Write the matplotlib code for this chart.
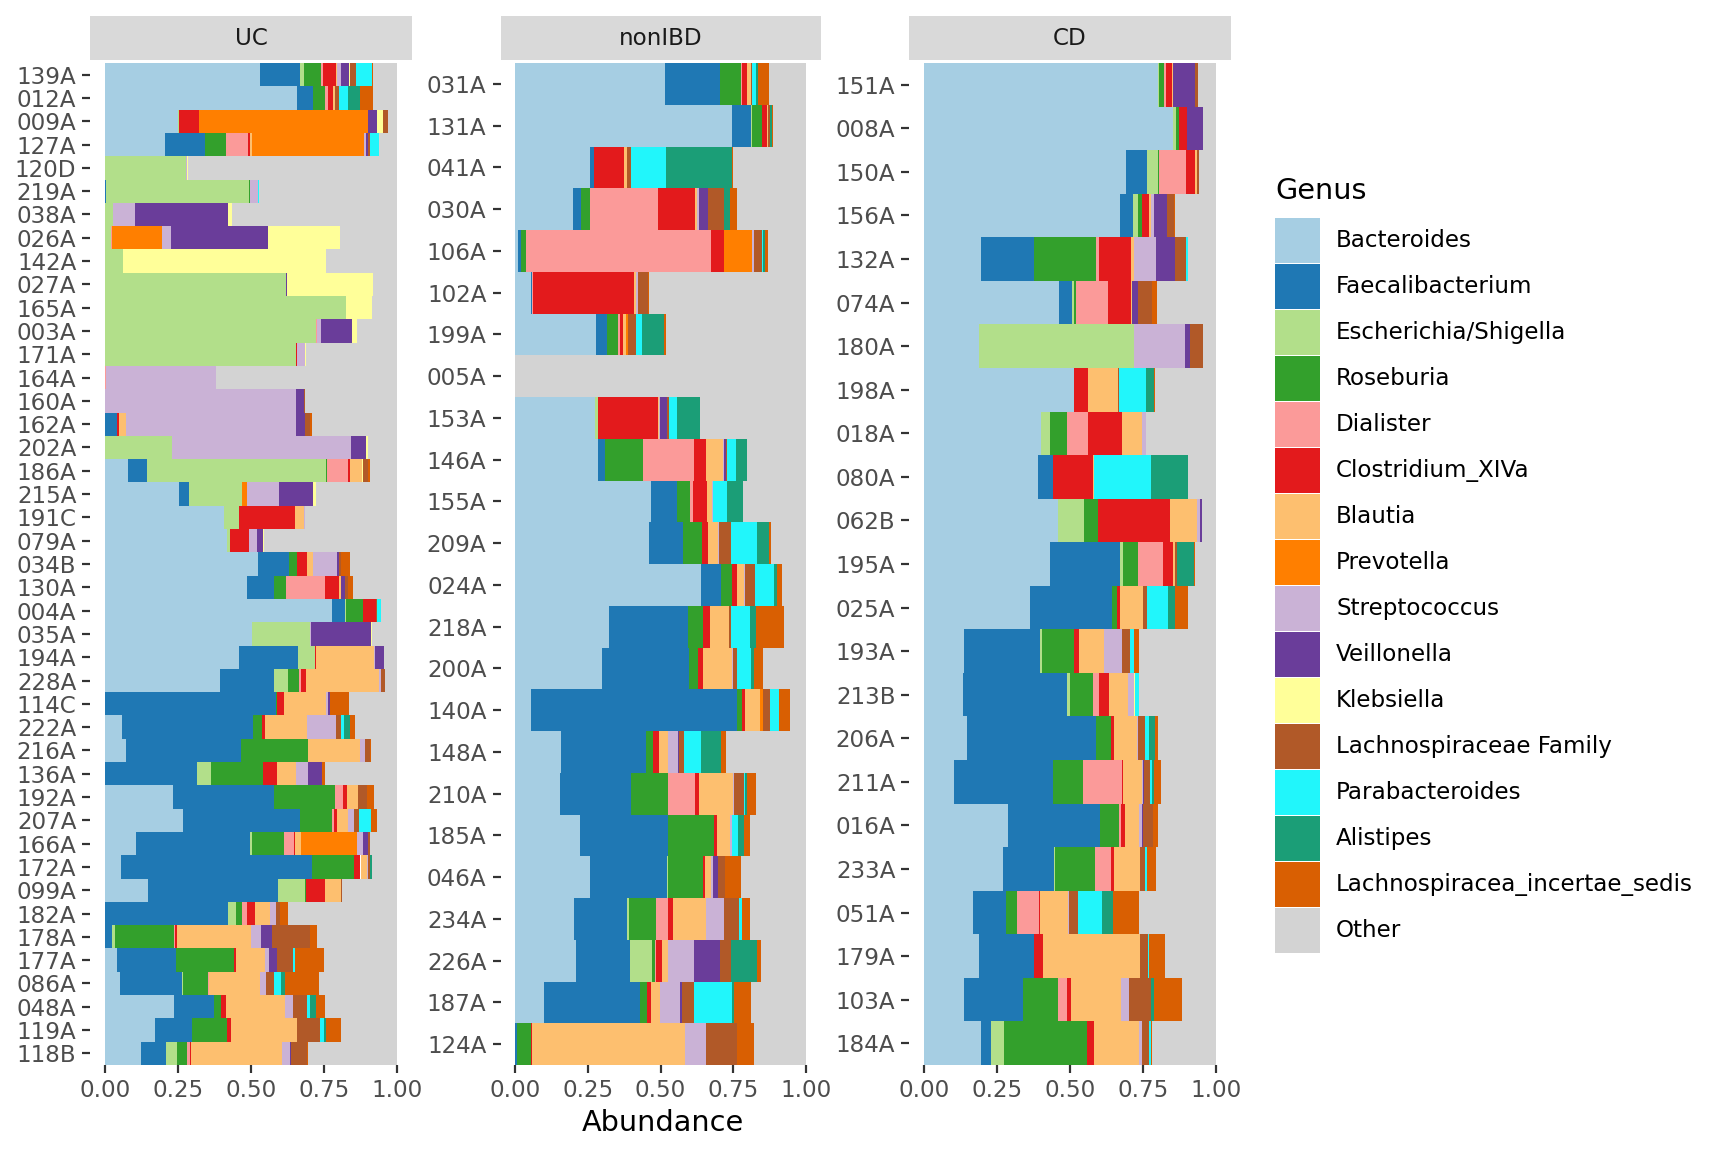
import numpy as np
import matplotlib
matplotlib.use("Agg")
import matplotlib.pyplot as plt
from matplotlib.patches import Rectangle


""" DONNEES """
genres = ["Bacteroides", "Faecalibacterium", "Escherichia/Shigella", "Roseburia",
          "Dialister", "Clostridium_XIVa", "Blautia", "Prevotella", "Streptococcus",
          "Veillonella", "Klebsiella", "Lachnospiraceae Family", "Parabacteroides",
          "Alistipes", "Lachnospiracea_incertae_sedis", "Other"]

couleurs = ["#a6cee3", "#1f78b4", "#b2df8a", "#33a02c", "#fb9a99", "#e31a1c",
            "#fdbf6f", "#ff7f00", "#cab2d6", "#6a3d9a", "#ffff99", "#b15928",
            "#21f6fb", "#1b9e77", "#d95f02", "#d3d3d3"]

# colonnes : les 15 genres (Other = 1 - somme)
uc_samples = ["139A", "012A", "009A", "127A", "120D", "219A", "038A", "026A", "142A",
              "027A", "165A", "003A", "171A", "164A", "160A", "162A", "202A", "186A",
              "215A", "191C", "079A", "034B", "130A", "004A", "035A", "194A", "228A",
              "114C", "222A", "216A", "136A", "192A", "207A", "166A", "172A", "099A",
              "182A", "178A", "177A", "086A", "048A", "119A", "118B"]
uc_values = [
    [0.531, 0.138, 0.014, 0.058, 0.005, 0.045, 0.004, 0, 0.012, 0.028, 0.003, 0.020, 0.057, 0, 0.004],
    [0.658, 0.055, 0, 0.041, 0.010, 0.017, 0.007, 0, 0, 0, 0, 0.014, 0.031, 0.041, 0.043],
    [0.249, 0, 0.005, 0, 0, 0.069, 0, 0.576, 0, 0.031, 0.021, 0.017, 0, 0, 0],
    [0.206, 0.137, 0, 0.072, 0.075, 0.007, 0.007, 0.384, 0.007, 0.007, 0, 0.007, 0.031, 0, 0],
    [0, 0, 0.278, 0, 0, 0, 0, 0, 0.004, 0, 0.003, 0, 0, 0, 0],
    [0, 0.004, 0.490, 0.004, 0, 0, 0, 0, 0.026, 0, 0, 0, 0.003, 0, 0],
    [0, 0, 0.027, 0, 0, 0, 0, 0, 0.075, 0.319, 0.014, 0, 0, 0, 0],
    [0, 0, 0.020, 0, 0.003, 0, 0, 0.171, 0.031, 0.333, 0.247, 0, 0, 0, 0],
    [0, 0, 0.062, 0, 0, 0, 0, 0, 0, 0, 0.696, 0, 0, 0, 0],
    [0, 0, 0.619, 0, 0, 0, 0, 0, 0, 0.005, 0.294, 0, 0, 0, 0],
    [0, 0, 0.826, 0, 0, 0, 0, 0, 0, 0, 0.089, 0, 0, 0, 0],
    [0, 0, 0.723, 0, 0.003, 0, 0, 0, 0.014, 0.106, 0.017, 0, 0, 0, 0],
    [0, 0, 0.655, 0, 0, 0.003, 0, 0, 0.027, 0, 0.003, 0, 0, 0, 0],
    [0, 0, 0, 0, 0.002, 0, 0, 0, 0.378, 0, 0, 0, 0, 0, 0],
    [0, 0, 0, 0, 0, 0, 0, 0, 0.655, 0.027, 0, 0.003, 0, 0, 0],
    [0, 0.041, 0, 0, 0, 0.007, 0.024, 0, 0.583, 0.031, 0, 0.017, 0, 0, 0.007],
    [0, 0, 0.230, 0, 0, 0, 0, 0, 0.614, 0.051, 0.007, 0, 0, 0, 0],
    [0.079, 0.065, 0.614, 0.003, 0.072, 0.007, 0.041, 0, 0, 0, 0.004, 0.016, 0, 0, 0.007],
    [0.254, 0.034, 0.182, 0, 0, 0, 0, 0.017, 0.110, 0.117, 0.007, 0, 0, 0, 0],
    [0.408, 0, 0.051, 0, 0, 0.192, 0.031, 0, 0.003, 0, 0, 0, 0, 0, 0],
    [0.418, 0, 0.010, 0, 0, 0.065, 0, 0, 0.027, 0.021, 0.003, 0, 0, 0, 0],
    [0.525, 0.106, 0, 0.027, 0, 0.034, 0.021, 0, 0.082, 0.007, 0, 0.007, 0, 0, 0.031],
    [0.487, 0.093, 0, 0.041, 0.134, 0.045, 0.007, 0, 0, 0.014, 0, 0.010, 0, 0, 0.017],
    [0.778, 0.045, 0.003, 0.059, 0, 0.043, 0, 0, 0, 0, 0, 0.003, 0.014, 0, 0],
    [0.504, 0, 0.199, 0, 0, 0, 0, 0, 0.003, 0.206, 0.003, 0, 0, 0, 0],
    [0.459, 0.202, 0.058, 0, 0, 0.003, 0.199, 0, 0.003, 0.031, 0, 0, 0, 0, 0],
    [0.394, 0.185, 0.048, 0.038, 0.007, 0.017, 0.250, 0, 0.007, 0, 0, 0.014, 0, 0, 0],
    [0, 0.586, 0, 0.003, 0, 0.024, 0.144, 0, 0.007, 0.007, 0, 0, 0, 0, 0.065],
    [0.058, 0.449, 0, 0.031, 0, 0.010, 0.144, 0, 0.099, 0, 0, 0.017, 0.010, 0.021, 0.017],
    [0.072, 0.394, 0, 0.230, 0, 0, 0.178, 0, 0.017, 0, 0, 0.017, 0, 0, 0.003],
    [0, 0.315, 0.048, 0.178, 0, 0.048, 0.065, 0, 0.041, 0.048, 0, 0, 0, 0, 0.010],
    [0.233, 0.346, 0, 0.209, 0.027, 0.014, 0.038, 0, 0, 0, 0, 0.031, 0, 0, 0.024],
    [0.267, 0.401, 0, 0.110, 0.007, 0.010, 0.038, 0, 0.021, 0, 0, 0.017, 0.041, 0, 0.021],
    [0.106, 0.391, 0.007, 0.110, 0.034, 0.003, 0.021, 0.192, 0.021, 0.014, 0, 0.010, 0, 0, 0],
    [0.055, 0.655, 0, 0.144, 0, 0.021, 0.021, 0, 0.003, 0, 0, 0.007, 0, 0.007, 0.003],
    [0.147, 0.446, 0.093, 0.003, 0, 0.065, 0.055, 0, 0, 0, 0, 0.003, 0, 0, 0],
    [0, 0.422, 0.027, 0.021, 0.017, 0.027, 0.051, 0, 0.021, 0, 0, 0.014, 0, 0, 0.027],
    [0, 0.024, 0.010, 0.202, 0.003, 0.007, 0.254, 0, 0.034, 0.038, 0, 0.130, 0, 0, 0.024],
    [0.041, 0.202, 0, 0.199, 0, 0.007, 0.099, 0, 0.014, 0.027, 0, 0.055, 0.007, 0, 0.099],
    [0.051, 0.213, 0.003, 0.086, 0.003, 0, 0.175, 0, 0.021, 0, 0, 0.027, 0.024, 0.014, 0.117],
    [0.237, 0.137, 0, 0.024, 0, 0.017, 0.202, 0, 0.027, 0, 0, 0.048, 0.010, 0.021, 0.031],
    [0.171, 0.127, 0, 0.120, 0, 0.014, 0.226, 0, 0, 0, 0, 0.079, 0.014, 0.007, 0.051],
    [0.123, 0.086, 0.038, 0.034, 0.010, 0.003, 0.312, 0, 0.027, 0.003, 0, 0.055, 0, 0, 0.003],
]

nonibd_samples = ["031A", "131A", "041A", "030A", "106A", "102A", "199A", "005A", "153A",
                  "146A", "155A", "209A", "024A", "218A", "200A", "140A", "148A", "210A",
                  "185A", "046A", "234A", "226A", "187A", "124A"]
nonibd_values = [
    [0.515, 0.189, 0, 0.072, 0.003, 0.017, 0.014, 0, 0, 0, 0, 0.005, 0.014, 0.007, 0.038],
    [0.746, 0.065, 0.003, 0.034, 0, 0.017, 0.003, 0, 0, 0, 0, 0.007, 0, 0.007, 0.003],
    [0.258, 0.014, 0, 0, 0, 0.103, 0.010, 0, 0, 0, 0, 0.014, 0.120, 0.227, 0.003],
    [0.199, 0.027, 0, 0.031, 0.234, 0.127, 0.007, 0, 0.007, 0.031, 0, 0.055, 0, 0.019, 0.025],
    [0.010, 0.010, 0, 0.017, 0.636, 0.045, 0, 0.096, 0.008, 0, 0, 0.026, 0.003, 0.007, 0.010],
    [0.055, 0.003, 0, 0, 0.003, 0.347, 0.007, 0, 0.007, 0, 0, 0.034, 0, 0, 0.003],
    [0.278, 0.038, 0, 0.038, 0.007, 0.010, 0.010, 0.007, 0, 0, 0, 0.027, 0.021, 0.076, 0.007],
    [0, 0, 0, 0, 0, 0, 0, 0, 0, 0, 0, 0, 0, 0, 0],
    [0.275, 0, 0.010, 0, 0, 0.206, 0.003, 0, 0.003, 0.024, 0, 0.007, 0.027, 0.079, 0],
    [0.285, 0.024, 0, 0.131, 0.175, 0.041, 0.058, 0, 0.003, 0.007, 0, 0.003, 0.031, 0.038, 0],
    [0.467, 0.089, 0, 0.045, 0.010, 0.048, 0.017, 0, 0.003, 0, 0, 0, 0.048, 0.058, 0],
    [0.460, 0.117, 0, 0.065, 0, 0.021, 0.034, 0, 0.003, 0, 0, 0.041, 0.089, 0.041, 0.010],
    [0.639, 0.069, 0, 0.038, 0, 0.017, 0.024, 0, 0.003, 0, 0, 0.034, 0.065, 0.010, 0.017],
    [0.323, 0.271, 0, 0.052, 0, 0.024, 0.065, 0, 0, 0, 0, 0.007, 0.065, 0.021, 0.096],
    [0.299, 0.299, 0, 0.031, 0, 0.017, 0.100, 0, 0.003, 0, 0, 0.014, 0.048, 0.010, 0.031],
    [0.055, 0.708, 0, 0.017, 0, 0.010, 0.052, 0.010, 0, 0, 0, 0.024, 0.031, 0, 0.038],
    [0.158, 0.292, 0, 0.024, 0, 0.021, 0.031, 0, 0.034, 0.003, 0, 0.017, 0.058, 0.069, 0.017],
    [0.155, 0.244, 0, 0.127, 0.093, 0.014, 0.117, 0, 0.003, 0, 0, 0.034, 0.003, 0.007, 0.031],
    [0.223, 0.302, 0, 0.158, 0, 0.010, 0.045, 0, 0.007, 0, 0, 0, 0.021, 0.021, 0.021],
    [0.258, 0.265, 0.003, 0.120, 0, 0.007, 0.021, 0, 0.007, 0.017, 0, 0.024, 0, 0, 0.055],
    [0.203, 0.182, 0.007, 0.093, 0.041, 0.017, 0.113, 0, 0.062, 0, 0, 0.052, 0.010, 0, 0.027],
    [0.210, 0.186, 0.076, 0.010, 0.003, 0.021, 0.021, 0, 0.089, 0.089, 0, 0.038, 0, 0.089, 0.014],
    [0.100, 0.330, 0, 0.024, 0, 0.014, 0.031, 0, 0.069, 0.007, 0, 0.041, 0.131, 0.007, 0.058],
    [0, 0.007, 0, 0.048, 0, 0.003, 0.526, 0, 0.072, 0, 0, 0.107, 0, 0, 0.058],
]

cd_samples = ["151A", "008A", "150A", "156A", "132A", "074A", "180A", "198A", "018A",
              "080A", "062B", "195A", "025A", "193A", "213B", "206A", "211A", "016A",
              "233A", "051A", "179A", "103A", "184A"]
cd_values = [
    [0.801, 0, 0.003, 0.017, 0.007, 0.021, 0.003, 0, 0, 0.075, 0, 0.010, 0, 0, 0.003],
    [0.853, 0, 0.010, 0.010, 0, 0.027, 0, 0, 0, 0.055, 0, 0, 0, 0, 0],
    [0.692, 0.072, 0.038, 0.003, 0.092, 0.031, 0.007, 0, 0, 0, 0, 0.007, 0, 0, 0],
    [0.671, 0.045, 0.017, 0.014, 0, 0.024, 0.007, 0, 0.010, 0.045, 0, 0.024, 0, 0, 0.003],
    [0.195, 0.182, 0, 0.212, 0.010, 0.110, 0.010, 0, 0.075, 0.065, 0, 0.038, 0.007, 0, 0],
    [0.462, 0.045, 0.007, 0.007, 0.110, 0.079, 0.003, 0, 0, 0.021, 0, 0.048, 0, 0, 0.017],
    [0.188, 0, 0.531, 0, 0, 0, 0, 0, 0.175, 0.017, 0, 0.045, 0, 0, 0],
    [0.514, 0, 0, 0, 0, 0.048, 0.103, 0, 0, 0, 0, 0.003, 0.092, 0.027, 0.003],
    [0.401, 0, 0.031, 0.058, 0.072, 0.116, 0.068, 0, 0.014, 0, 0, 0, 0, 0, 0],
    [0.390, 0.051, 0, 0, 0, 0.137, 0.003, 0, 0, 0, 0, 0, 0.195, 0.127, 0],
    [0.459, 0, 0.089, 0.048, 0, 0.247, 0.092, 0, 0.010, 0.007, 0, 0, 0, 0, 0],
    [0.432, 0.240, 0.010, 0.051, 0.086, 0.034, 0.007, 0, 0, 0, 0, 0.007, 0, 0.058, 0.003],
    [0.363, 0.281, 0, 0.017, 0, 0.010, 0.079, 0, 0, 0, 0, 0.014, 0.072, 0.024, 0.045],
    [0.137, 0.260, 0.007, 0.110, 0, 0.017, 0.086, 0, 0.062, 0, 0, 0.027, 0.014, 0, 0.017],
    [0.134, 0.356, 0.010, 0.079, 0.021, 0.034, 0.065, 0, 0.021, 0, 0.003, 0, 0.014, 0, 0],
    [0.147, 0.442, 0, 0.051, 0, 0.010, 0.079, 0, 0.003, 0, 0, 0.024, 0.014, 0.021, 0.010],
    [0.103, 0.339, 0, 0.103, 0.134, 0.003, 0.065, 0, 0.003, 0.003, 0, 0.021, 0.007, 0.007, 0.024],
    [0.288, 0.315, 0, 0.065, 0.007, 0.014, 0.048, 0, 0.010, 0.003, 0, 0.034, 0, 0, 0.017],
    [0.271, 0.175, 0.003, 0.137, 0.055, 0.010, 0.089, 0, 0, 0, 0, 0.017, 0.007, 0, 0.031],
    [0.168, 0.113, 0, 0.038, 0.075, 0.003, 0.096, 0, 0.003, 0, 0, 0.031, 0.082, 0.038, 0.089],
    [0.188, 0.188, 0, 0, 0, 0.031, 0.332, 0, 0, 0, 0, 0.027, 0.003, 0, 0.058],
    [0.137, 0.202, 0, 0.120, 0.031, 0.014, 0.171, 0, 0.027, 0, 0, 0.075, 0, 0.010, 0.096],
    [0.195, 0.034, 0.045, 0.284, 0, 0.024, 0.154, 0, 0.010, 0, 0, 0.024, 0.007, 0, 0.003],
]

x_ticks = [0.0, 0.25, 0.5, 0.75, 1.0]
x_tick_labels = ["0.00", "0.25", "0.50", "0.75", "1.00"]


""" FONCTIONS """
def ajouter_other(valeurs):
    v = np.array(valeurs, dtype=float)
    other = np.clip(1 - v.sum(axis=1), 0, None)
    return np.column_stack([v, other])

def panneau(fig, rect, titre, samples, valeurs):
    ax = fig.add_axes(rect)
    v = ajouter_other(valeurs)
    y = np.arange(len(samples))
    gauche = np.zeros(len(samples))
    for j in range(v.shape[1]):
        ax.barh(y, v[:, j], left=gauche, height=1.0, color=couleurs[j],
                linewidth=0, edgecolor="none")
        gauche += v[:, j]
    ax.set_xlim(-0.05, 1.05)
    ax.set_ylim(len(samples) - 0.5, -0.5)
    ax.set_yticks(y)
    ax.set_yticklabels(samples)
    ax.set_xticks(x_ticks)
    ax.set_xticklabels(x_tick_labels)
    ax.tick_params(axis="both", labelsize=11.5, labelcolor="#4d4d4d",
                   color="#333333", length=4, width=1.1, pad=3)
    for s in ax.spines.values():
        s.set_visible(False)
    # bandeau du facet
    l, b, w, h = rect
    sax = fig.add_axes([l, 0.9479, w, 0.0382])
    sax.set_facecolor("#d9d9d9")
    sax.set_xticks([])
    sax.set_yticks([])
    for s in sax.spines.values():
        s.set_visible(False)
    sax.text(0.5, 0.5, titre, ha="center", va="center", fontsize=11.5,
             color="#1a1a1a", transform=sax.transAxes)
    return ax


""" AFFICHAGE """
fig = plt.figure(figsize=(12, 8), dpi=144)
W, H = 1728, 1152
bas = 1 - 1065 / H
haut = 1065 / H - 63 / H

panneau(fig, [90.4 / W, bas, 321.2 / W, haut], "UC", uc_samples, uc_values)
panneau(fig, [500.5 / W, bas, 320.1 / W, haut], "nonIBD", nonibd_samples, nonibd_values)
panneau(fig, [909.4 / W, bas, 321.2 / W, haut], "CD", cd_samples, cd_values)

fig.text(663 / W, 1 - 1123 / H, "Abundance", ha="center", va="center",
         fontsize=14.4, color="black")

# legende
fig.text(1275 / W, 1 - 191 / H, "Genus", ha="left", va="center", fontsize=14.4)
for i, (g, c) in enumerate(zip(genres, couleurs)):
    y0 = 218 + i * 46
    fig.patches.append(Rectangle((1275 / W, 1 - (y0 + 45) / H), 45 / W, 45 / H,
                                 transform=fig.transFigure, facecolor=c,
                                 edgecolor="none"))
    fig.text(1336 / W, 1 - (y0 + 22.5) / H, g, ha="left", va="center",
             fontsize=11.5, color="black")

fig.savefig("out.png", dpi=144)
